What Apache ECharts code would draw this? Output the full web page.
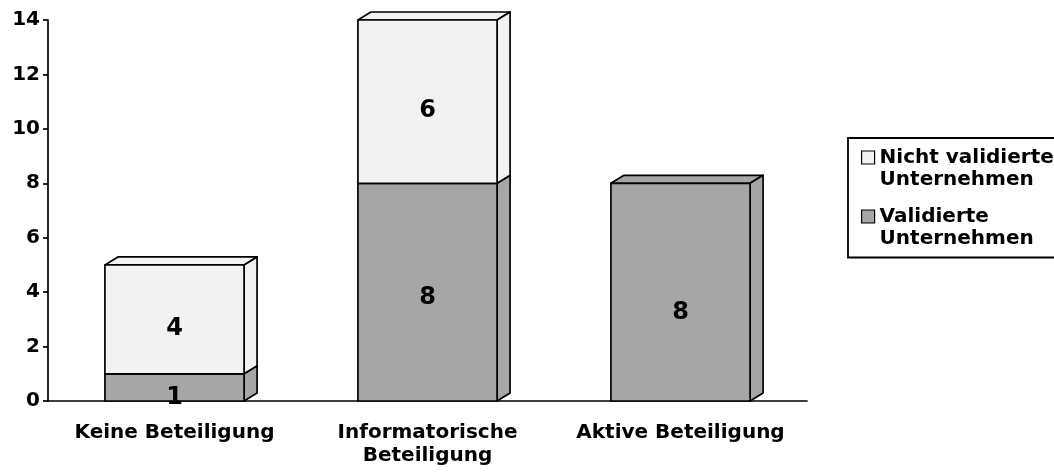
<!DOCTYPE html>
<html>
<head>
<meta charset="utf-8">
<script src="https://cdn.jsdelivr.net/npm/echarts@6/dist/echarts.min.js"></script>
<style>
  html, body { margin: 0; padding: 0; background: #fff; }
  #chart { width: 1054px; height: 472px; }
</style>
</head>
<body>
<div id="chart"></div>
<script>
// Daten
const categories = ['Keine Beteiligung', 'Informatorische\nBeteiligung', 'Aktive Beteiligung'];
const validated = [1, 8, 8];
const notValidated = [4, 6, 0];
const seriesNames = ['Validierte\nUnternehmen', 'Nicht validierte\nUnternehmen'];
const yTicks = { min: 0, max: 14, interval: 2 };

// kleine Verschiebung der Wertbeschriftungen (px), wie im Original
const labelShiftValidated = [10, 6, 21];
const labelShiftNotValidated = [9, 9, 0];

const FONT = '"DejaVu Sans", sans-serif';
const DX = 13, DY = 8;
const LW = 1.7;

const chart = echarts.init(document.getElementById('chart'));

function box(shifts) {
    return function (params, api) {
        const cat = api.value(0), base = api.value(1), top = api.value(2), val = api.value(3);
        if (!(top > base)) return null;
        const pb = api.coord([cat, base]);
        const pt = api.coord([cat, top]);
        const w = api.size([1, 0])[0] * 0.55;
        const x0 = pb[0] - w / 2, x1 = pb[0] + w / 2;
        const yb = pb[1], yt = pt[1];
        const st = { fill: api.visual('color'), stroke: '#000', lineWidth: LW, lineJoin: 'round' };
        return {
            type: 'group',
            children: [
                { type: 'polygon', shape: { points: [[x0, yt], [x0 + DX, yt - DY], [x1 + DX, yt - DY], [x1, yt]] }, style: st },
                { type: 'polygon', shape: { points: [[x1, yt], [x1 + DX, yt - DY], [x1 + DX, yb - DY], [x1, yb]] }, style: st },
                { type: 'rect', shape: { x: x0, y: yt, width: w, height: yb - yt }, style: st },
                {
                    type: 'text', z2: 10,
                    style: {
                        text: String(val), x: pb[0], y: (yb + yt) / 2 + shifts[params.dataIndex],
                        align: 'center', verticalAlign: 'middle',
                        fontFamily: FONT, fontWeight: 'bold', fontSize: 24, fill: '#000'
                    }
                }
            ]
        };
    };
}

const option = {
    animation: false,
    backgroundColor: '#fff',
    grid: { left: 48, right: 247, top: 20, bottom: 71 },
    legend: {
        orient: 'vertical',
        left: 848, top: 138,
        padding: [8.5, 14, 8, 13],
        data: [seriesNames[1], seriesNames[0]],
        icon: 'path://M0,0L13,0L13,13L0,13ZM0,35',
        itemWidth: 13, itemHeight: 35, itemGap: 15,
        itemStyle: { borderColor: '#000', borderWidth: 1.2 },
        borderColor: '#000', borderWidth: 1.8, backgroundColor: '#fff',
        textStyle: { fontFamily: FONT, fontWeight: 'bold', fontSize: 20, lineHeight: 22, color: '#000' }
    },
    xAxis: {
        type: 'category',
        data: categories,
        axisLine: { lineStyle: { color: '#000', width: LW } },
        axisTick: { length: 6, lineStyle: { color: '#000', width: LW } },
        axisLabel: { interval: 0, margin: 20, color: '#000', fontFamily: FONT, fontWeight: 'bold', fontSize: 20, lineHeight: 23 }
    },
    yAxis: {
        type: 'value',
        min: yTicks.min, max: yTicks.max, interval: yTicks.interval,
        splitLine: { show: false },
        axisLine: { show: true, lineStyle: { color: '#000', width: LW } },
        axisTick: { show: true, length: 5, lineStyle: { color: '#000', width: LW } },
        axisLabel: { margin: 8, color: '#000', fontFamily: FONT, fontWeight: 'bold', fontSize: 20 }
    },
    series: [
        {
            name: seriesNames[0],
            type: 'custom',
            renderItem: box(labelShiftValidated),
            itemStyle: { color: '#a6a6a6', borderColor: '#000', borderWidth: 1 },
            encode: { x: 0, y: 2 },
            data: categories.map((c, i) => [i, 0, validated[i], validated[i]])
        },
        {
            name: seriesNames[1],
            type: 'custom',
            renderItem: box(labelShiftNotValidated),
            itemStyle: { color: '#f2f2f2', borderColor: '#000', borderWidth: 1 },
            encode: { x: 0, y: 2 },
            data: categories.map((c, i) => [i, validated[i], validated[i] + notValidated[i], notValidated[i]])
        }
    ]
};

chart.setOption(option);
</script>
</body>
</html>
